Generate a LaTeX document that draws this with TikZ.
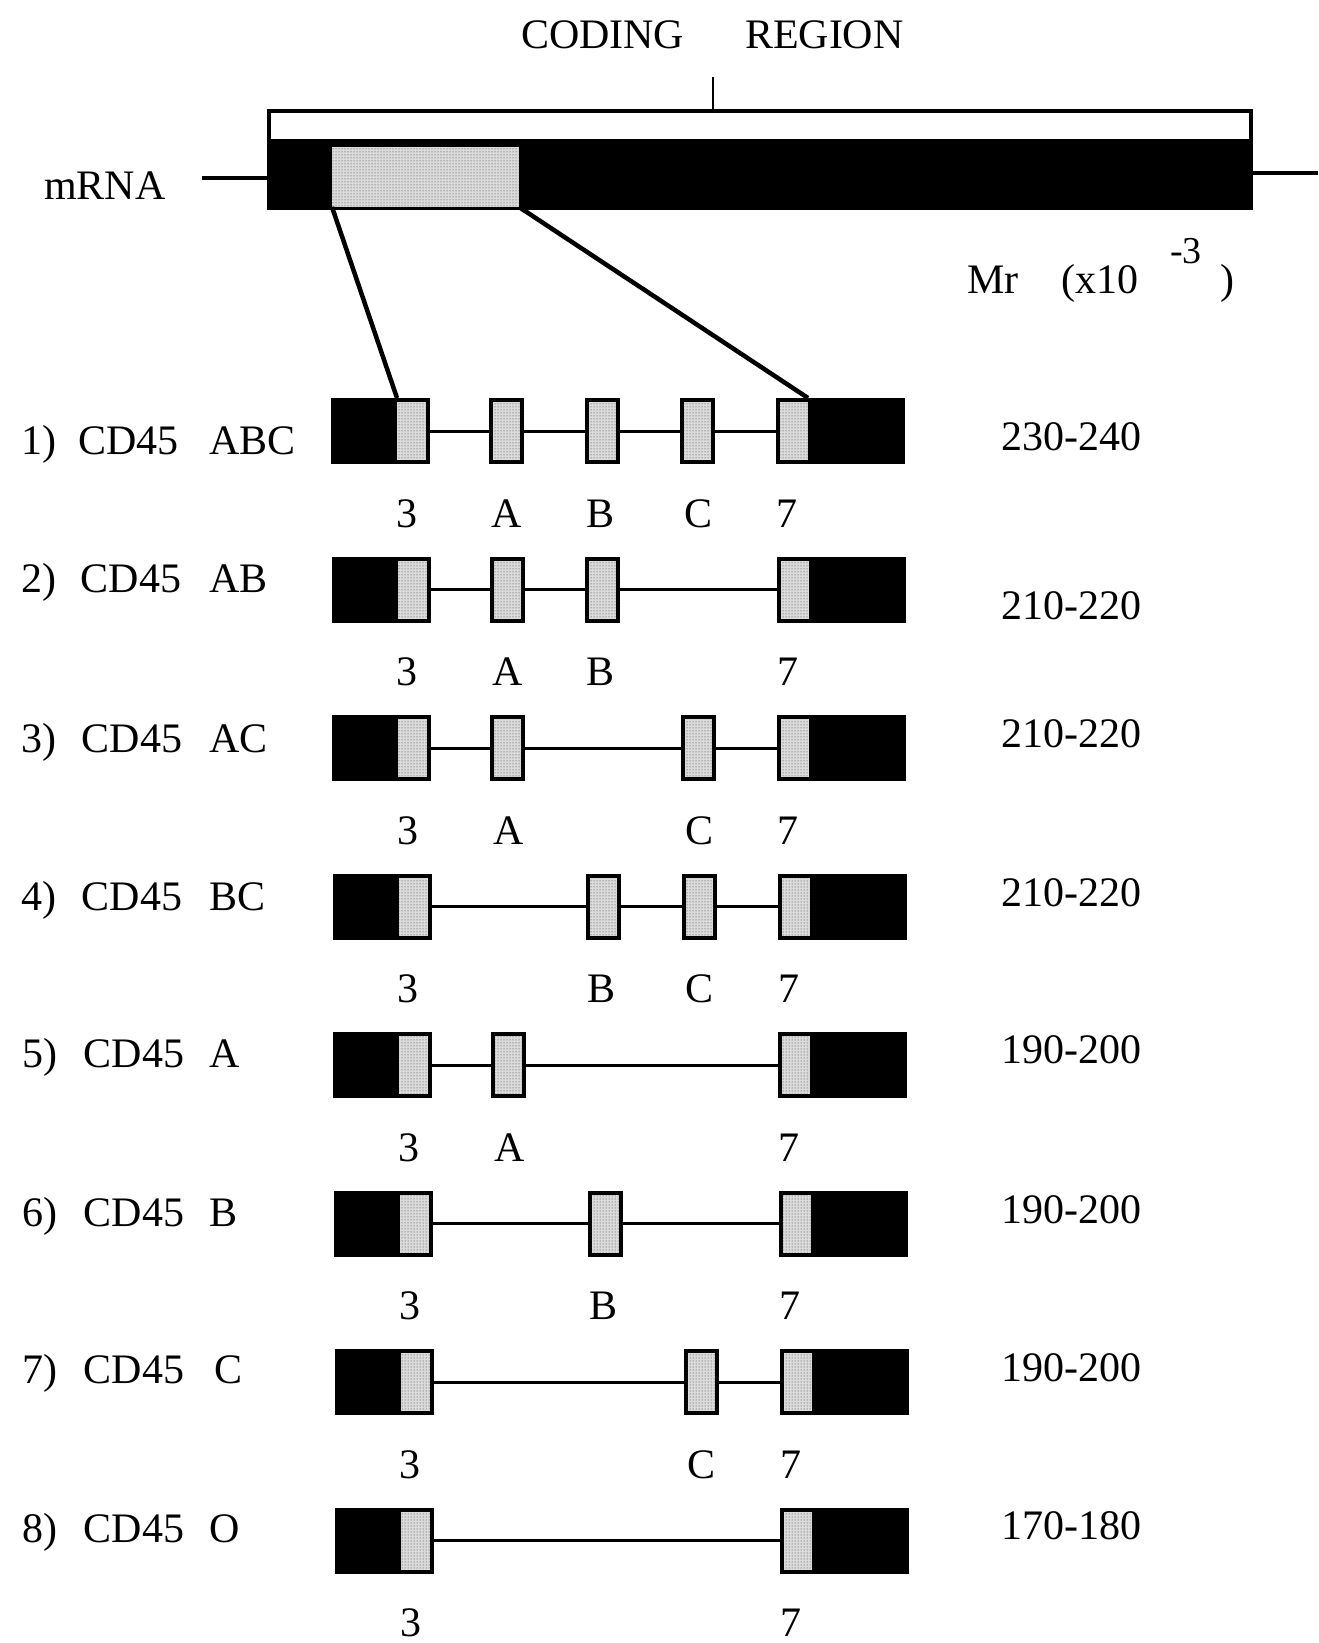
\documentclass[tikz,border=0pt]{standalone}
\usepackage{fontspec}
\setmainfont{Liberation Serif}
\usetikzlibrary{patterns}
\tikzset{
  blk/.style={fill=black, draw=none, minimum height=66, inner sep=0, outer sep=0},
  stip/.style={fill=black!14, postaction={pattern=dots, pattern color=black!80}, draw=none, inner sep=0, outer sep=0},
  exonbox/.style={stip, draw=black, line width=4, minimum width=31, minimum height=62},
  intron/.style={line width=3},
  thick line/.style={line width=4.5},
  lbl/.style={font=\fontsize{42}{50}\selectfont, inner sep=0, outer sep=0, anchor=base},
  lblw/.style={lbl, anchor=base west},
}
\newcommand\cdframe[3]{%
  \node[blk, minimum width=99] (#1L) at (380.5+#3,#2) {};
  \node[stip, minimum width=29, minimum height=58] (#1e3) at (411.5+#3,#2) {};
  \node[blk, minimum width=129] (#1R) at (840.5+#3,#2) {};
  \node[stip, minimum width=28, minimum height=58] (#1e7) at (794+#3,#2) {};
}
\newcommand\cdexon[4]{\node[exonbox] (#1#2) at (#3,#4) {};}
\newcommand\cdsub[4]{\node[lbl] (#1s#2) at (#3,#4) {#2};}
\begin{document}
\begin{tikzpicture}[x=1pt,y=-1pt]
\useasboundingbox (0,0) rectangle (1318,1643);
% ---- header
\node[lblw] (coding) at (521,49) {CODING};
\node[lblw] (region) at (745,49) {REGION};
\node[draw, line width=4, fill=white, minimum width=982, minimum height=30, inner sep=0] (cr) at (760,126) {};
\node[blk, minimum width=986, minimum height=69] (bar) at (760,175.5) {};
\node[stip, minimum width=187, minimum height=60] (stip) at (425.5,177) {};
\coordinate (tick) at (713,77);
\draw[line width=2.5] (tick) -- (tick |- cr.north);
\coordinate (ml) at (202,178);
\coordinate (mr) at (1318,173);
\draw[line width=3.5] (ml) -- (ml -| bar.west);
\draw[line width=3.5] (mr -| bar.east) -- (mr);
\node[lblw] (mrna) at (44,199) {mRNA};
\node[lblw] (mrlab) at (967,293) {Mr};
\node[lblw] (x10) at (1061,293) {(x10};
\node[font=\fontsize{38}{44}\selectfont, inner sep=0, anchor=base west] (exp) at (1170,263) {-3};
\node[lblw] (rpar) at (1220,293) {)};
% ---- row 1
\cdframe{r1}{431}{0}
\cdexon{r1}{A}{506.5}{431}
\cdexon{r1}{B}{602}{431}
\cdexon{r1}{C}{697.5}{431}
\draw[intron] (r1L.east) -- (r1A.west) (r1A.east) -- (r1B.west) (r1B.east) -- (r1C.west) (r1C.east) -- (r1R.west);
\node[lblw] (r1num) at (21,454) {1)};
\node[lblw] (r1cd) at (78.6,454) {CD45};
\node[lblw] (r1nm) at (209.5,454) {ABC};
\node[lbl] (r1val) at (1071,450) {230-240};
\cdsub{r1}{3}{406.5}{527}
\cdsub{r1}{A}{507}{527}
\cdsub{r1}{B}{600}{527}
\cdsub{r1}{C}{698}{527}
\cdsub{r1}{7}{787}{527}
% connectors from mRNA
\draw[thick line] (stip.south west) -- (r1e3.west |- r1L.north);
\draw[thick line] (stip.south east) -- (r1e7.east |- r1R.north);
% ---- row 2
\cdframe{r2}{589.5}{0.6}
\cdexon{r2}{A}{507.1}{589.5}
\cdexon{r2}{B}{602.6}{589.5}
\draw[intron] (r2L.east) -- (r2A.west) (r2A.east) -- (r2B.west) (r2B.east) -- (r2R.west);
\node[lblw] (r2num) at (21,592) {2)};
\node[lblw] (r2cd) at (80.7,592) {CD45};
\node[lblw] (r2nm) at (209.5,592) {AB};
\node[lbl] (r2val) at (1071,619.6) {210-220};
\cdsub{r2}{3}{407.1}{685.5}
\cdsub{r2}{A}{507.6}{685.5}
\cdsub{r2}{B}{600.6}{685.5}
\cdsub{r2}{7}{787.6}{685.5}
% ---- row 3
\cdframe{r3}{748}{1.2}
\cdexon{r3}{A}{507.7}{748}
\cdexon{r3}{C}{698.7}{748}
\draw[intron] (r3L.east) -- (r3A.west) (r3A.east) -- (r3C.west) (r3C.east) -- (r3R.west);
\node[lblw] (r3num) at (21,752.6) {3)};
\node[lblw] (r3cd) at (81.7,752.6) {CD45};
\node[lblw] (r3nm) at (209.5,752.6) {AC};
\node[lbl] (r3val) at (1071,747.4) {210-220};
\cdsub{r3}{3}{407.7}{844}
\cdsub{r3}{A}{508.2}{844}
\cdsub{r3}{C}{699.2}{844}
\cdsub{r3}{7}{788.2}{844}
% ---- row 4
\cdframe{r4}{906.5}{1.8}
\cdexon{r4}{B}{603.8}{906.5}
\cdexon{r4}{C}{699.3}{906.5}
\draw[intron] (r4L.east) -- (r4B.west) (r4B.east) -- (r4C.west) (r4C.east) -- (r4R.west);
\node[lblw] (r4num) at (21,910) {4)};
\node[lblw] (r4cd) at (81.7,910) {CD45};
\node[lblw] (r4nm) at (209.5,910) {BC};
\node[lbl] (r4val) at (1071,906.6) {210-220};
\cdsub{r4}{3}{408.3}{1002.5}
\cdsub{r4}{B}{601.8}{1002.5}
\cdsub{r4}{C}{699.8}{1002.5}
\cdsub{r4}{7}{788.8}{1002.5}
% ---- row 5
\cdframe{r5}{1065}{2.4}
\cdexon{r5}{A}{508.9}{1065}
\draw[intron] (r5L.east) -- (r5A.west) (r5A.east) -- (r5R.west);
\node[lblw] (r5num) at (23,1067) {5)};
\node[lblw] (r5cd) at (83.8,1067) {CD45};
\node[lblw] (r5nm) at (209.5,1067) {A};
\node[lbl] (r5val) at (1071,1063.8) {190-200};
\cdsub{r5}{3}{408.9}{1161}
\cdsub{r5}{A}{509.4}{1161}
\cdsub{r5}{7}{789.4}{1161}
% ---- row 6
\cdframe{r6}{1223.5}{3}
\cdexon{r6}{B}{605}{1223.5}
\draw[intron] (r6L.east) -- (r6B.west) (r6B.east) -- (r6R.west);
\node[lblw] (r6num) at (23,1226) {6)};
\node[lblw] (r6cd) at (83.8,1226) {CD45};
\node[lblw] (r6nm) at (209.5,1226) {B};
\node[lbl] (r6val) at (1071,1223) {190-200};
\cdsub{r6}{3}{409.5}{1319.5}
\cdsub{r6}{B}{603}{1319.5}
\cdsub{r6}{7}{790}{1319.5}
% ---- row 7
\cdframe{r7}{1382}{3.6}
\cdexon{r7}{C}{701.1}{1382}
\draw[intron] (r7L.east) -- (r7C.west) (r7C.east) -- (r7R.west);
\node[lblw] (r7num) at (23,1383) {7)};
\node[lblw] (r7cd) at (83.8,1383) {CD45};
\node[lblw] (r7nm) at (214.8,1383) {C};
\node[lbl] (r7val) at (1071,1381) {190-200};
\cdsub{r7}{3}{410.1}{1478}
\cdsub{r7}{C}{701.6}{1478}
\cdsub{r7}{7}{790.6}{1478}
% ---- row 8
\cdframe{r8}{1540.5}{4.2}
\draw[intron] (r8L.east) -- (r8R.west);
\node[lblw] (r8num) at (23,1542.6) {8)};
\node[lblw] (r8cd) at (83.8,1542.6) {CD45};
\node[lblw] (r8nm) at (209.5,1542.6) {O};
\node[lbl] (r8val) at (1071,1539.4) {170-180};
\cdsub{r8}{3}{410.7}{1636.5}
\cdsub{r8}{7}{791.2}{1636.5}
\end{tikzpicture}
\end{document}
